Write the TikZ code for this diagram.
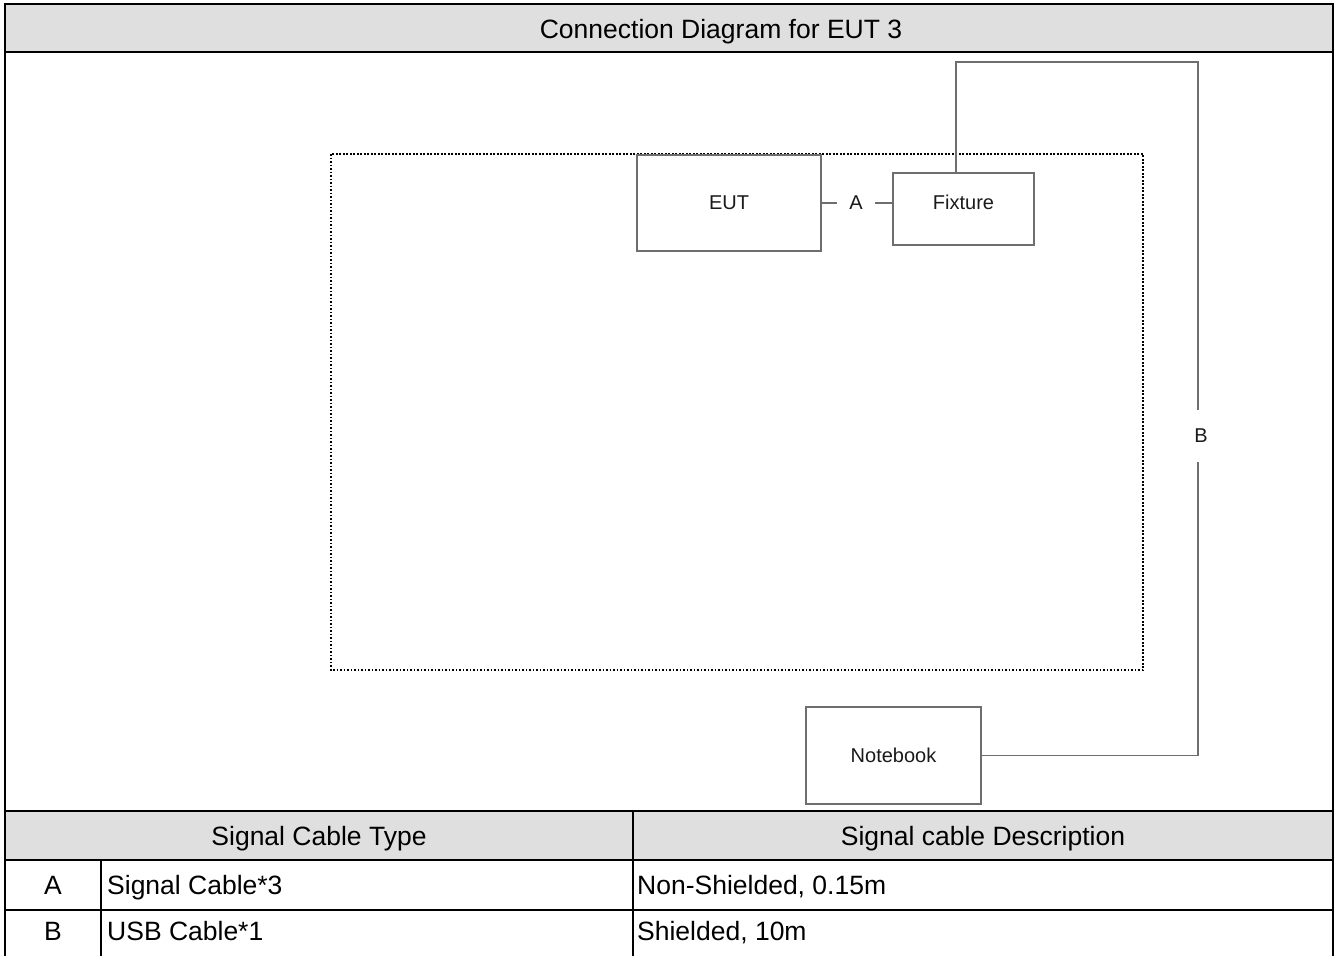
\documentclass[tikz,border=0pt]{standalone}
\usepackage{fontspec}
\setmainfont{Liberation Sans}
\definecolor{hdr}{HTML}{DFDFDF}
\definecolor{boxgray}{HTML}{6E6E6E}
\definecolor{txt}{HTML}{1A1A1A}
\begin{document}
\begin{tikzpicture}[x=1pt,y=-1pt,
  tbl/.style={line width=2pt, draw=black},
  box/.style={draw=boxgray, line width=1.3pt, inner sep=0pt, font=\fontsize{20}{24}\selectfont, text=txt},
  cable/.style={draw=boxgray, line width=1.3pt},
  big/.style={font=\fontsize{26.5}{30}\selectfont, inner sep=0pt, text=black},
  small/.style={font=\fontsize{20}{24}\selectfont, text=txt, inner sep=0pt}]
\useasboundingbox (0,0) rectangle (1339,956);
% header fills
\fill[hdr] (5,4) rectangle (1333,52);
\fill[hdr] (5,811) rectangle (1333,860);
% table lines
\draw[tbl] (5,962) -- (5,4) -- (1333,4) -- (1333,962);
\draw[tbl] (5,52) -- (1333,52);
\draw[tbl] (5,811) -- (1333,811);
\draw[tbl] (5,860) -- (1333,860);
\draw[tbl] (5,910) -- (1333,910);
\draw[tbl] (633,811) -- (633,962);
\draw[tbl] (101,860) -- (101,962);
% title
\node[big, anchor=base] (title) at (721,38.5) {Connection Diagram for EUT 3};
% dotted area
\draw[black, line width=2.1pt, dash pattern=on 1.8pt off 1.7pt] (331,154) rectangle (1143,670);
% boxes
\node[box, minimum width=184pt, minimum height=96pt] (eut) at (729,203) {EUT};
\node[box, minimum width=141pt, minimum height=72pt] (fix) at (963.5,209) {\raisebox{0pt}[0pt][0pt]{Fixture}};
\node[box, minimum width=175pt, minimum height=97pt] (nb) at (893.5,755.5) {Notebook};
% cable A
\node[small, minimum width=38pt] (A) at (856,203) {A};
\draw[cable] (eut.east) -- (A.west);
\draw[cable] (A.east) -- (fix.west |- A.east);
% cable B
\coordinate (b1) at (956,62);
\coordinate (b2) at (1198,62);
\coordinate (b3) at (1198,755.5);
\node[small, minimum height=52pt] (B) at (1201,436) {B};
\draw[cable] (fix.north -| b1) -- (b1) -- (b2) -- (B.north -| b2);
\draw[cable] (B.south -| b2) -- (b3) -- (nb.east);
% table text
\node[big, anchor=base] (h1) at (319,845) {Signal Cable Type};
\node[big, anchor=base] (h2) at (983,845) {Signal cable Description};
\node[big, anchor=base] (ra) at (53,894.5) {A};
\node[big, anchor=base west] (ta) at (107,894.5) {Signal Cable*3};
\node[big, anchor=base west] (da) at (637,894.5) {Non-Shielded, 0.15m};
\node[big, anchor=base] (rb) at (53,940) {B};
\node[big, anchor=base west] (tb) at (107,940) {USB Cable*1};
\node[big, anchor=base west] (db) at (637,940) {Shielded, 10m};
\end{tikzpicture}
\end{document}
